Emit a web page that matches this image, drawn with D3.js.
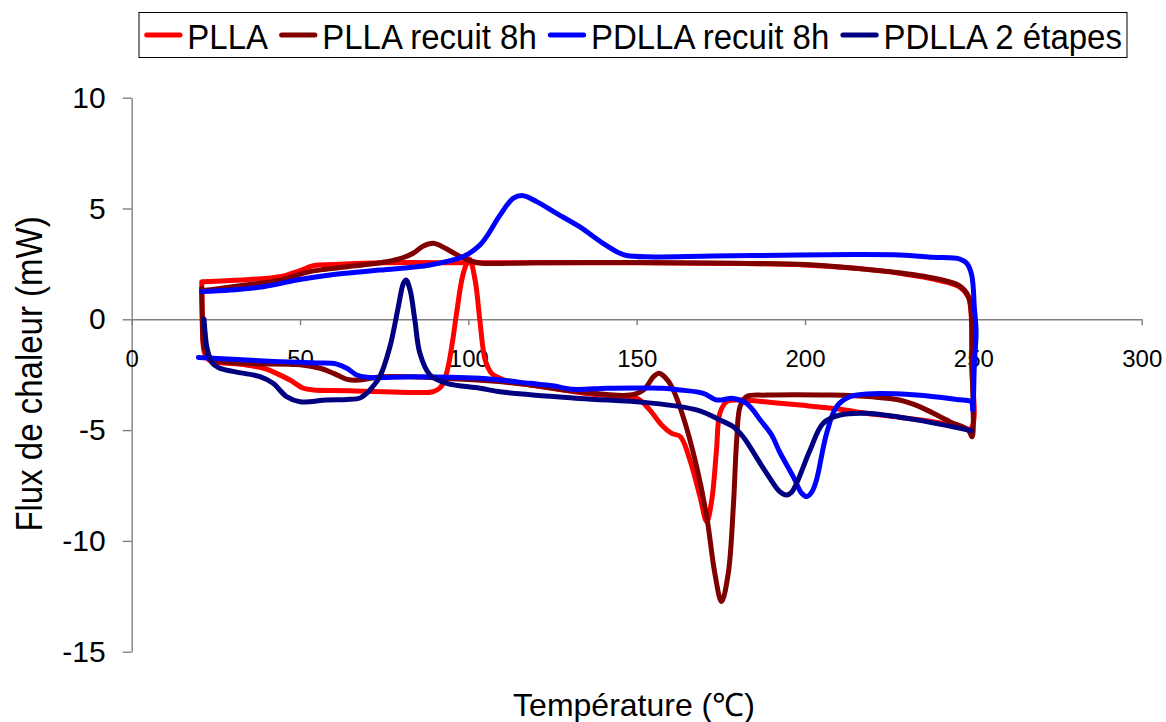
<!DOCTYPE html>
<html>
<head>
<meta charset="utf-8">
<script src="https://cdn.jsdelivr.net/npm/d3@7/dist/d3.min.js"></script>
<style>
  html, body { margin: 0; padding: 0; background: #fff; }
  svg { display: block; font-family: "Liberation Sans", Arial, sans-serif; }
</style>
</head>
<body>
<svg id="chart" width="1166" height="722"></svg>
<script>
// DSC thermograms: heat flow (mW) against temperature (°C)

const seriesNames = ["PLLA", "PLLA recuit 8h", "PDLLA recuit 8h", "PDLLA 2 étapes"];
const seriesColors = ["#ff0000", "#800000", "#0000ff", "#000080"];

const xTicks = [0, 50, 100, 150, 200, 250, 300];
const yTicks = [-15, -10, -5, 0, 5, 10];

// PLLA — heating scan then cooling scan, [T, flux]
const pllaHeating = [
  [20.8, 1.70], [20.9, 0.5], [21.1, -0.8], [21.6, -1.5], [23.0, -1.85], [26, -1.95],
  [34, -2.06], [40, -2.25], [43, -2.44], [47, -2.74], [51, -3.11], [54, -3.19],
  [64, -3.22], [75, -3.27], [84, -3.3], [89.5, -3.27], [91.5, -3.1], [92.5, -2.89],
  [94, -2.14], [95.3, -1.0], [96.5, 0.27], [98.5, 2.08], [100.3, 2.72], [102, 1.77],
  [103.4, -0.03], [105, -1.84], [106.9, -2.44], [109.4, -2.66], [113.3, -2.85], [120, -3.0],
  [133, -3.3], [142, -3.45], [150, -3.56], [153, -3.94], [155, -4.3], [157.4, -4.77],
  [160.4, -5.15], [163, -5.3], [165.8, -6.35], [168.8, -8.0], [170.8, -9.13], [172.3, -8.15],
  [173.7, -5.9], [174.7, -4.24], [176.7, -3.72], [180.7, -3.64], [190, -3.75], [198.5, -3.87],
  [210, -4.05], [218, -4.24], [228, -4.42], [238, -4.62], [245, -4.8], [249.3, -4.92]
];
const pllaCooling = [
  [249.5, -2.0], [249.3, 0.3], [248.5, 1.0], [246, 1.45], [240, 1.75], [228, 2.08],
  [215, 2.3], [200, 2.45], [180, 2.52], [150, 2.55], [120, 2.55], [100, 2.55],
  [75, 2.55], [60, 2.47], [54, 2.42], [50, 2.2], [44, 1.92], [35, 1.8], [25, 1.72], [21, 1.7]
];

// PLLA recuit 8h
const pllaRecuitHeating = [
  [20.8, 1.4], [21.0, 0.0], [21.4, -1.2], [22.5, -1.6], [25, -1.85], [35, -2.0],
  [50, -2.05], [56, -2.21], [60, -2.44], [64, -2.71], [67.8, -2.74], [73.7, -2.6],
  [84, -2.6], [100, -2.72], [115, -2.9], [133, -3.27], [148, -3.42], [152, -3.19],
  [155, -2.59], [156.6, -2.43], [158.3, -2.6], [160.4, -3.04], [163.8, -4.4], [167.8, -6.65],
  [170.8, -8.9], [173.2, -11.46], [175.2, -12.74], [177.2, -11.46], [178.7, -8.46], [179.7, -5.45],
  [180.7, -3.94], [182.6, -3.49], [188.6, -3.42], [208, -3.42], [220, -3.5], [228, -3.64],
  [234, -3.94], [243, -4.62], [248.5, -5.0], [249.6, -5.3]
];
const pllaRecuitCooling = [
  [249.6, -2.0], [249.4, 0.3], [248.5, 1.05], [246, 1.5], [240, 1.8], [228, 2.1],
  [215, 2.3], [200, 2.47], [180, 2.53], [150, 2.56], [120, 2.55], [104, 2.53],
  [101, 2.62], [98, 2.8], [95, 3.05], [92, 3.3], [89.6, 3.43], [86.5, 3.3],
  [83.6, 2.98], [80, 2.75], [75.7, 2.6], [64, 2.37], [57, 2.25], [52, 2.12],
  [44, 1.77], [34, 1.55], [24, 1.35], [21, 1.3]
];

// PDLLA recuit 8h
const pdllaRecuitHeating = [
  [19.8, -1.72], [30, -1.8], [38, -1.87], [44, -1.91], [55, -1.97], [60.9, -2.02],
  [63.9, -2.21], [66.8, -2.51], [69.8, -2.62], [83.6, -2.59], [103.4, -2.66], [109.4, -2.74],
  [118.3, -2.89], [125, -3.0], [131.2, -3.16], [141, -3.11], [150, -3.1], [157.9, -3.11],
  [163, -3.19], [169.8, -3.34], [173.7, -3.64], [178.7, -3.57], [182.6, -3.79], [187, -4.6],
  [190, -5.2], [192.5, -6.0], [196.5, -7.1], [199, -7.85], [200.5, -8.0], [202, -7.8],
  [203.4, -7.25], [206.4, -5.15], [209.4, -3.94], [213.3, -3.49], [218.3, -3.37], [233.1, -3.42],
  [245, -3.62], [249.4, -3.72], [249.8, -4.09]
];
const pdllaRecuitCooling = [
  [250.3, -2.0], [250.8, -0.55], [250.3, 0.5], [249.5, 2.0], [248, 2.53], [246, 2.72],
  [238, 2.8], [228.2, 2.9], [215, 2.92], [198.5, 2.9], [172.7, 2.86], [153, 2.82],
  [147, 2.88], [145, 2.98], [140, 3.43], [133, 4.18], [126.2, 4.78], [120.3, 5.31],
  [116.3, 5.58], [113.3, 5.46], [109.4, 4.7], [105.4, 3.73], [103.4, 3.35], [98.5, 2.83],
  [88.6, 2.45], [73.7, 2.22], [58.9, 2.0], [49, 1.77], [39.1, 1.47], [29.2, 1.32], [20.8, 1.25]
];

// PDLLA 2 étapes (heating scan only)
const pdlla2Heating = [
  [21.5, 0.0], [21.8, -0.6], [22.3, -1.24], [23.8, -1.95], [26, -2.2], [30, -2.35],
  [38.1, -2.59], [42, -2.89], [46, -3.49], [50, -3.72], [57.9, -3.64], [64, -3.62],
  [67.8, -3.55], [69.8, -3.34], [71.8, -3.0], [73.7, -2.59], [76.7, -1.24], [79.2, 0.57],
  [80.7, 1.62], [81.5, 1.77], [82.7, 1.32], [84.1, -0.03], [85.6, -1.53], [88.6, -2.51],
  [93.6, -2.89], [103.4, -3.11], [109.4, -3.27], [133, -3.57], [153, -3.76], [167.8, -4.09],
  [174.7, -4.54], [178.7, -4.85], [181.6, -5.3], [183.6, -5.75], [188.6, -6.95], [192.5, -7.78],
  [194.5, -7.93], [196, -7.8], [197.5, -7.4], [201.5, -5.9], [205.4, -4.69], [210.4, -4.32],
  [218.3, -4.24], [233.1, -4.54], [249.5, -5.03]
];

const seriesPaths = [
  pllaHeating.concat(pllaCooling),
  pllaRecuitHeating.concat(pllaRecuitCooling),
  pdllaRecuitHeating.concat(pdllaRecuitCooling),
  pdlla2Heating
];

const svg = d3.select("#chart");
const font = '"Liberation Sans", Arial, sans-serif';

const x = d3.scaleLinear().domain([0, 300]).range([131.7, 1141.7]);
const y = d3.scaleLinear().domain([-15, 10]).range([651.7, 97.7]);

const axisColor = "#808080";
const plainNumber = d => String(d);

// y axis
const yAxis = svg.append("g")
  .attr("transform", `translate(${x(0)},0)`)
  .call(d3.axisLeft(y).tickValues(yTicks).tickSize(9).tickSizeOuter(0).tickPadding(17)
    .tickFormat(plainNumber));
yAxis.select(".domain").attr("stroke", axisColor).attr("stroke-width", 1.4);
yAxis.selectAll(".tick line").attr("stroke", axisColor).attr("stroke-width", 1.4);
yAxis.selectAll(".tick text").attr("font-size", 30).attr("font-family", font).attr("fill", "#000");

// x axis through zero
const xAxis = svg.append("g")
  .attr("transform", `translate(0,${y(0)})`)
  .call(d3.axisBottom(x).tickValues(xTicks).tickSize(6).tickSizeOuter(0).tickPadding(25)
    .tickFormat(plainNumber));
xAxis.select(".domain").attr("stroke", axisColor).attr("stroke-width", 1.4);
xAxis.selectAll(".tick line").attr("stroke", axisColor).attr("stroke-width", 1.4);
xAxis.selectAll(".tick text").attr("font-size", 24).attr("font-family", font).attr("fill", "#000");

// curves
const line = d3.line()
  .x(d => x(d[0]))
  .y(d => y(d[1]))
  .curve(d3.curveCatmullRom.alpha(0.5));

svg.append("g").selectAll("path")
  .data(seriesPaths)
  .join("path")
  .attr("d", d => line(d))
  .attr("fill", "none")
  .attr("stroke", (d, i) => seriesColors[i])
  .attr("stroke-width", 5)
  .attr("stroke-linejoin", "round")
  .attr("stroke-linecap", "round");

// axis titles
svg.append("text")
  .attr("x", 634).attr("y", 716)
  .attr("text-anchor", "middle")
  .attr("font-size", 32).attr("font-family", font)
  .text("Température (℃)");

svg.append("text")
  .attr("transform", "translate(41.5,374) rotate(-90) scale(1,1.1)")
  .attr("text-anchor", "middle")
  .attr("font-size", 33).attr("font-family", font)
  .text("Flux de chaleur (mW)");

// legend
const legend = svg.append("g");
legend.append("rect")
  .attr("x", 139).attr("y", 12.5).attr("width", 988).attr("height", 45)
  .attr("fill", "#fff").attr("stroke", "#000").attr("stroke-width", 1);

let lx = 146.7;
seriesNames.forEach((name, i) => {
  legend.append("line")
    .attr("x1", lx).attr("x2", lx + 33.3)
    .attr("y1", 35).attr("y2", 35)
    .attr("stroke", seriesColors[i]).attr("stroke-width", 5)
    .attr("stroke-linecap", "round");
  const t = legend.append("text")
    .attr("transform", `translate(${lx + 40.6},49) scale(1,1.09)`)
    .attr("font-size", 33).attr("font-family", font)
    .text(name);
  lx += 40.6 + t.node().getComputedTextLength() + 13.6;
});
</script>
</body>
</html>
